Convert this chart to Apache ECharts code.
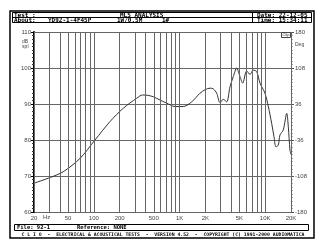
<!DOCTYPE html>
<html><head><meta charset="utf-8">
<script src="https://cdn.jsdelivr.net/npm/echarts@6/dist/echarts.min.js"></script>
<style>html,body{margin:0;padding:0;background:#fff;}#c{width:325px;height:250px;}</style>
</head><body><div id="c"></div>
<script>
// Frequency response (Hz, dB SPL)
const freqs = [20, 31, 44, 69, 103, 154, 220, 316, 370, 430, 494, 592, 700, 885, 1107, 1387, 1733, 2000, 2266, 2478, 2714, 2966, 3243, 3550, 3882, 4240, 4646, 5080, 5460, 6080, 6640, 7260, 7960, 8690, 9930, 10870, 11900, 12660, 13360, 14220, 14870, 16260, 17820, 18600, 19460, 20000];
const spl   = [68.0, 69.6, 71.2, 74.9, 80.0, 85.1, 88.8, 91.6, 92.5, 92.4, 92.0, 91.1, 90.3, 89.3, 89.3, 90.6, 93.0, 94.0, 94.4, 94.2, 93.0, 90.4, 91.3, 90.6, 94.8, 97.6, 100.0, 97.6, 95.8, 99.2, 98.2, 99.4, 99.0, 95.8, 93.0, 89.3, 84.6, 80.9, 78.1, 78.6, 81.4, 82.8, 87.4, 83.7, 77.2, 76.0];
const gridFreqs = [20,30,40,50,60,70,80,90,100,200,300,400,500,600,700,800,900,1000,2000,3000,4000,5000,6000,7000,8000,9000,10000,20000];
const tickFreqs = [20, 50, 100, 200, 500, 1000, 2000, 5000, 10000, 20000];
const tickLabels = ['20', '50', '100', '200', '500', '1K', '2K', '5K', '10K', '20K'];
const phaseLabels = ['-180', '-108', '-36', '36', '108', '180'];

const curve = freqs.map((f, i) => [f, spl[i]]);
const mono = '"DejaVu Sans Mono", "Liberation Mono", monospace';
const sans = '"Liberation Sans", "DejaVu Sans", sans-serif';

const gridLines = gridFreqs.map(f => {
  const k = tickFreqs.indexOf(f);
  return k >= 0 ? { xAxis: f, label: { show: true, formatter: tickLabels[k] } } : { xAxis: f };
});

const chart = echarts.init(document.getElementById('c'), null, { renderer: 'canvas' });
chart.setOption({
  animation: false,
  backgroundColor: '#fff',
  grid: { left: 34, right: 34, top: 32, bottom: 38 },
  xAxis: {
    type: 'log', logBase: 10, min: 20, max: 20000,
    axisLine: { show: false }, axisTick: { show: false },
    axisLabel: { show: false }, splitLine: { show: false }
  },
  yAxis: [{
    type: 'value', min: 60, max: 110, interval: 10, position: 'left',
    axisLine: { show: true, lineStyle: { color: '#000', width: 2 } },
    axisTick: { show: true, length: 3, lineStyle: { color: '#000' } },
    minorTick: { show: true, splitNumber: 10, length: 2, lineStyle: { color: '#333' } },
    axisLabel: { color: '#444', fontSize: 6, fontFamily: sans, margin: 3 },
    splitLine: { show: true, lineStyle: { color: '#666', width: 1 } }
  }, {
    type: 'value', min: 0, max: 5, interval: 1, position: 'right',
    axisLine: { show: true, lineStyle: { color: '#555', width: 1, type: 'dashed' } },
    axisTick: { show: true, length: 3, inside: false, lineStyle: { color: '#555' } },
    minorTick: { show: true, splitNumber: 10, length: 1.5, lineStyle: { color: '#555' } },
    axisLabel: { color: '#444', fontSize: 6, fontFamily: sans, margin: 4,
      formatter: v => phaseLabels[v] },
    splitLine: { show: false }
  }],
  series: [{
    type: 'line', data: [[20, 60]], symbol: 'none', silent: true, z: 1,
    lineStyle: { opacity: 0 },
    markLine: {
      silent: true, symbol: 'none', animation: false,
      lineStyle: { color: '#666', width: 1, type: 'solid' },
      label: { show: false, position: 'start', distance: 3, color: '#444', fontSize: 6, fontFamily: sans },
      emphasis: { disabled: true },
      data: gridLines
    }
  }, {
    type: 'line', data: curve, symbol: 'none', smooth: 0.3, z: 3,
    lineStyle: { color: '#333', width: 1 }
  }],
  graphic: [
    // outer frame
    { type: 'rect', shape: { x: 10, y: 11, width: 304, height: 227 }, style: { fill: 'none', stroke: '#000', lineWidth: 1.5 } },
    // header
    { type: 'rect', shape: { x: 12.5, y: 12.5, width: 299, height: 10 }, style: { fill: 'none', stroke: '#000', lineWidth: 1 } },
    { type: 'line', shape: { x1: 12.5, y1: 17.5, x2: 311.5, y2: 17.5 }, style: { stroke: '#000', lineWidth: 1 } },
    { type: 'line', shape: { x1: 252.5, y1: 12.5, x2: 252.5, y2: 22.5 }, style: { stroke: '#000', lineWidth: 1 } },
    { type: 'text', x: 14, y: 15, style: { text: 'Test :', font: 'bold 6px ' + mono, fill: '#000', verticalAlign: 'middle' } },
    { type: 'text', x: 120, y: 15, style: { text: 'MLS ANALYSIS', font: 'bold 6px ' + mono, fill: '#000', verticalAlign: 'middle' } },
    { type: 'text', x: 257, y: 15, style: { text: 'Date: 22-12-05', font: 'bold 6px ' + mono, fill: '#000', verticalAlign: 'middle' } },
    { type: 'text', x: 14, y: 20.2, style: { text: 'About:', font: 'bold 6px ' + mono, fill: '#000', verticalAlign: 'middle' } },
    { type: 'text', x: 48, y: 20.2, style: { text: 'YD92-1-4F45P', font: 'bold 6px ' + mono, fill: '#000', verticalAlign: 'middle' } },
    { type: 'text', x: 117, y: 20.2, style: { text: '1W/0.5M', font: 'bold 6px ' + mono, fill: '#000', verticalAlign: 'middle' } },
    { type: 'text', x: 162, y: 20.2, style: { text: '1#', font: 'bold 6px ' + mono, fill: '#000', verticalAlign: 'middle' } },
    { type: 'text', x: 257, y: 20.2, style: { text: 'Time: 15:34:11', font: 'bold 6px ' + mono, fill: '#000', verticalAlign: 'middle' } },
    // units
    { type: 'text', x: 28, y: 41.5, style: { text: 'dB', font: '5px ' + sans, fill: '#444', align: 'right', verticalAlign: 'middle' } },
    { type: 'text', x: 28.5, y: 47, style: { text: 'spl', font: '5px ' + sans, fill: '#444', align: 'right', verticalAlign: 'middle' } },
    { type: 'text', x: 295, y: 45, style: { text: 'Deg', font: '5px ' + sans, fill: '#444', verticalAlign: 'middle' } },
    { type: 'text', x: 43, y: 217.5, style: { text: 'Hz', font: '6px ' + sans, fill: '#444', verticalAlign: 'middle' } },
    // clip box
    { type: 'rect', z: 10, shape: { x: 281.5, y: 32.5, width: 9, height: 5 }, style: { fill: '#fff', stroke: '#444', lineWidth: 1 } },
    { type: 'text', z: 11, x: 286, y: 35.2, style: { text: 'Clip', font: '4px ' + sans, fill: '#333', align: 'center', verticalAlign: 'middle' } },
    // file box
    { type: 'rect', shape: { x: 14.5, y: 224.5, width: 294, height: 6 }, style: { fill: 'none', stroke: '#000', lineWidth: 1 } },
    { type: 'text', x: 17, y: 227.7, style: { text: 'File: 92-1', font: 'bold 5.5px ' + mono, fill: '#000', verticalAlign: 'middle' } },
    { type: 'text', x: 77, y: 227.7, style: { text: 'Reference: NONE', font: 'bold 5.5px ' + mono, fill: '#000', verticalAlign: 'middle' } },
    // footer
    { type: 'text', x: 163, y: 234.5, style: { text: 'C L I O  -  ELECTRICAL & ACOUSTICAL TESTS  -  VERSION 4.52  -  COPYRIGHT (C) 1991-2000 AUDIOMATICA', font: 'bold 4.8px ' + mono, fill: '#000', align: 'center', verticalAlign: 'middle' } }
  ]
});
</script></body></html>
